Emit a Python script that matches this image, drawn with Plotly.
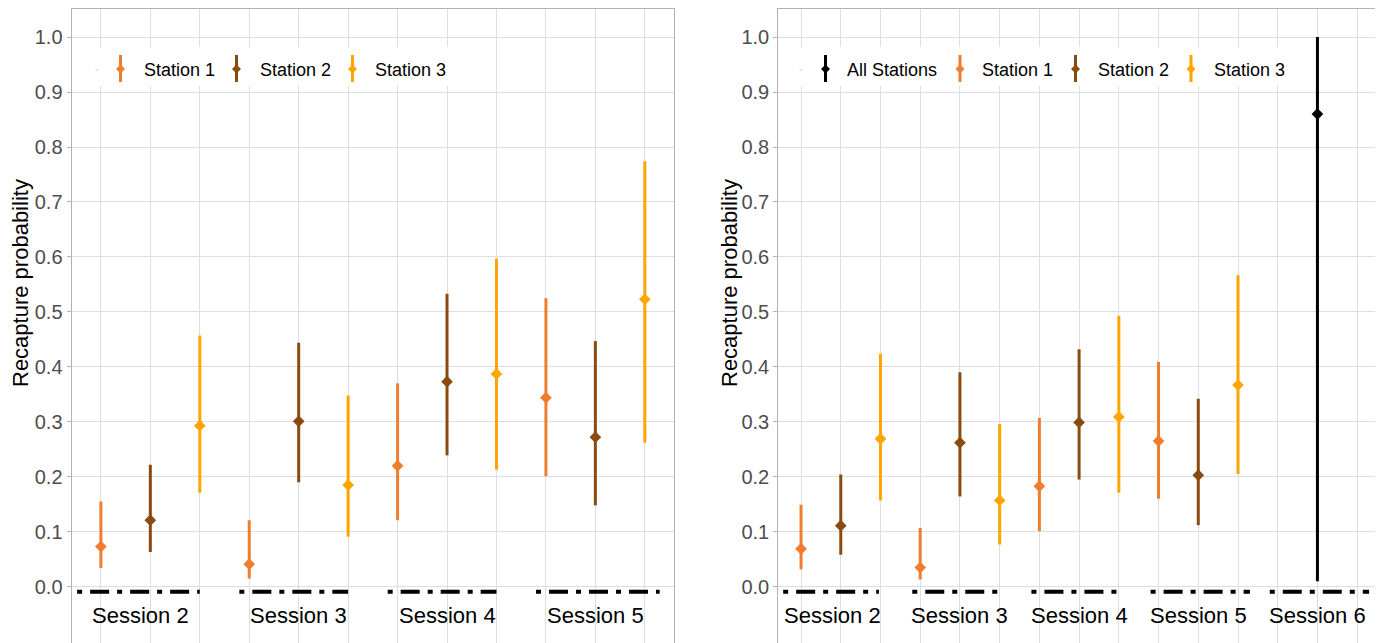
import plotly.graph_objects as go

# ---------------- data ----------------
# Left panel: station-specific model, sessions 2-5
sessions_left = ["Session 2", "Session 3", "Session 4", "Session 5"]
st1_est_L = [0.073, 0.041, 0.220, 0.344]
st1_lo_L = [0.034, 0.015, 0.121, 0.201]
st1_hi_L = [0.155, 0.121, 0.370, 0.525]
st2_est_L = [0.121, 0.301, 0.373, 0.272]
st2_lo_L = [0.063, 0.190, 0.239, 0.148]
st2_hi_L = [0.222, 0.444, 0.533, 0.447]
st3_est_L = [0.293, 0.185, 0.387, 0.523]
st3_lo_L = [0.171, 0.091, 0.213, 0.262]
st3_hi_L = [0.457, 0.348, 0.597, 0.774]

# Right panel: sessions 2-6 (session 6 pooled over all stations)
sessions_right = ["Session 2", "Session 3", "Session 4", "Session 5", "Session 6"]
st1_est_R = [0.069, 0.035, 0.183, 0.265]
st1_lo_R = [0.032, 0.013, 0.101, 0.160]
st1_hi_R = [0.149, 0.107, 0.307, 0.409]
st2_est_R = [0.111, 0.262, 0.299, 0.203]
st2_lo_R = [0.058, 0.164, 0.195, 0.112]
st2_hi_R = [0.204, 0.390, 0.432, 0.342]
st3_est_R = [0.269, 0.157, 0.309, 0.367]
st3_lo_R = [0.157, 0.077, 0.171, 0.205]
st3_hi_R = [0.424, 0.296, 0.493, 0.567]
all_est_R = [0.860]
all_lo_R = [0.010]
all_hi_R = [1.000]
all_session_index = [4]  # Session 6

y_ticks = [i / 10 for i in range(11)]
y_tick_labels = ["%.1f" % v for v in y_ticks]

# ---------------- style ----------------
C1, C2, C3, CALL = "#F07D2E", "#8B4A0F", "#FFA500", "#000000"
OFF = 8                      # page body margin
W, H, TOP = 1375, 635, 1
FONT = "Liberation Sans, Arial, sans-serif"
GRID = "#DEDEDE"
FRAME = "#B3B3B3"


def px_x(px):
    return (px - OFF) / W


def px_y(py):
    return (H + OFF - py) / (H - TOP)


fig = go.Figure()


def add_station(xs, est, lo, hi, color, xa, ya):
    fig.add_trace(go.Scatter(
        x=xs, y=est, mode="markers", xaxis=xa, yaxis=ya, showlegend=False,
        marker=dict(symbol="diamond", size=9, color=color, line=dict(width=0)),
        error_y=dict(type="data", symmetric=False,
                     array=[h - e for h, e in zip(hi, est)],
                     arrayminus=[e - l for e, l in zip(est, lo)],
                     thickness=3, width=0, color=color),
    ))


# left panel
for s, (est, lo, hi, col) in enumerate([(st1_est_L, st1_lo_L, st1_hi_L, C1),
                                         (st2_est_L, st2_lo_L, st2_hi_L, C2),
                                         (st3_est_L, st3_lo_L, st3_hi_L, C3)], start=1):
    xs = [3 * i + s for i in range(len(est))]
    add_station(xs, est, lo, hi, col, "x", "y")

# right panel
for s, (est, lo, hi, col) in enumerate([(st1_est_R, st1_lo_R, st1_hi_R, C1),
                                         (st2_est_R, st2_lo_R, st2_hi_R, C2),
                                         (st3_est_R, st3_lo_R, st3_hi_R, C3)], start=1):
    xs = [3 * i + s for i in range(len(est))]
    add_station(xs, est, lo, hi, col, "x2", "y2")
add_station([3 * i + 2 for i in all_session_index], all_est_R, all_lo_R, all_hi_R, CALL, "x2", "y2")

# ---------------- axes ----------------
def xaxis(domain, n, rng):
    return dict(domain=domain, range=rng, tickvals=list(range(1, n + 1)),
                showticklabels=False, ticks="", showgrid=True, gridcolor=GRID,
                gridwidth=1, zeroline=False, showline=True, linecolor=FRAME,
                linewidth=1.3, side="top", mirror=False, fixedrange=True)


def yaxis(anchor):
    return dict(anchor=anchor, domain=[0, 1], range=[-0.1024, 1.0511],
                tickvals=y_ticks, ticktext=y_tick_labels,
                tickfont=dict(family=FONT, size=20, color="#4D4D4D"),
                ticks="outside", ticklen=4, tickcolor=FRAME, tickwidth=1,
                showgrid=True, gridcolor=GRID, gridwidth=1, zeroline=False,
                showline=True, linecolor=FRAME, linewidth=1.3, mirror=True)


fig.update_layout(
    width=W, height=H, autosize=False,
    margin=dict(l=0, r=0, t=TOP, b=0, pad=0),
    paper_bgcolor="white", plot_bgcolor="white",
    showlegend=False,
    xaxis=xaxis([px_x(71.7), px_x(674)], 12, [0.41, 12.59]),
    yaxis=yaxis("x"),
    xaxis2=xaxis([px_x(778.4), px_x(1381)], 15, [0.43, 15.6]),
    yaxis2=yaxis("x2"),
)

shapes = []
annotations = []

# session separators (dot-dash segments) and session labels
seg_left = [(0.52, 3.0), (3.8, 6.0), (6.8, 9.0), (9.8, 12.3)]
seg_right = [(0.55, 2.96), (3.8, 6.0), (6.8, 9.0), (9.8, 12.3), (12.8, 15.3)]
label_pos_left = [1.8, 5, 8, 11]
label_pos_right = [1.78, 5, 8, 11, 14]
DASH = "5px,8px,19px,8px"
for (x0, x1) in seg_left:
    shapes.append(dict(type="line", xref="x", yref="y", x0=x0, x1=x1, y0=-0.009, y1=-0.009,
                       line=dict(color="black", width=4, dash=DASH), layer="above"))
for (x0, x1) in seg_right:
    shapes.append(dict(type="line", xref="x2", yref="y2", x0=x0, x1=x1, y0=-0.009, y1=-0.009,
                       line=dict(color="black", width=4, dash=DASH), layer="above"))
for lab, xp in zip(sessions_left, label_pos_left):
    annotations.append(dict(text=lab, x=xp, xref="x", y=px_y(615), yref="paper",
                            showarrow=False, xanchor="center", yanchor="middle",
                            font=dict(family=FONT, size=22, color="black")))
for lab, xp in zip(sessions_right, label_pos_right):
    annotations.append(dict(text=lab, x=xp, xref="x2", y=px_y(615), yref="paper",
                            showarrow=False, xanchor="center", yanchor="middle",
                            font=dict(family=FONT, size=22, color="black")))

# y axis titles
for xc in [20, 729]:
    annotations.append(dict(text="Recapture probability", x=px_x(xc), xref="paper",
                            y=px_y(283), yref="paper", textangle=-90, showarrow=False,
                            xanchor="center", yanchor="middle",
                            font=dict(family=FONT, size=22, color="black")))

# legends (drawn manually to show vertical pointrange keys)
def legend(bg_x0, bg_x1, tick_x, items):
    shapes.append(dict(type="rect", xref="paper", yref="paper",
                       x0=px_x(bg_x0), x1=px_x(bg_x1), y0=px_y(86), y1=px_y(47),
                       fillcolor="white", line=dict(width=0), layer="above"))
    shapes.append(dict(type="line", xref="paper", yref="paper",
                       x0=px_x(tick_x - 1.5), x1=px_x(tick_x + 1.5), y0=px_y(70), y1=px_y(70),
                       line=dict(color="#C8C8C8", width=1), layer="above"))
    for name, color, ix, tx in items:
        shapes.append(dict(type="line", xref="paper", yref="paper",
                           x0=px_x(ix), x1=px_x(ix), y0=px_y(55), y1=px_y(82),
                           line=dict(color=color, width=3), layer="above"))
        shapes.append(dict(type="path", xref="paper", yref="paper",
                           xsizemode="pixel", ysizemode="pixel",
                           xanchor=px_x(ix), yanchor=px_y(69),
                           path="M0,4.5 L4.5,0 L0,-4.5 L-4.5,0 Z",
                           fillcolor=color, line=dict(width=0), layer="above"))
        annotations.append(dict(text=name, x=px_x(tx), xref="paper", y=px_y(70.5),
                                yref="paper", showarrow=False, xanchor="left",
                                yanchor="middle",
                                font=dict(family=FONT, size=18, color="black")))


legend(91, 455, 97, [("Station 1", C1, 120.5, 142),
                     ("Station 2", C2, 236.5, 258),
                     ("Station 3", C3, 352.5, 373)])
legend(795, 1295, 801, [("All Stations", CALL, 825.5, 845),
                        ("Station 1", C1, 960, 980),
                        ("Station 2", C2, 1075.5, 1096),
                        ("Station 3", C3, 1191, 1212)])

fig.update_layout(shapes=shapes, annotations=annotations)
fig.write_html("out.html")
